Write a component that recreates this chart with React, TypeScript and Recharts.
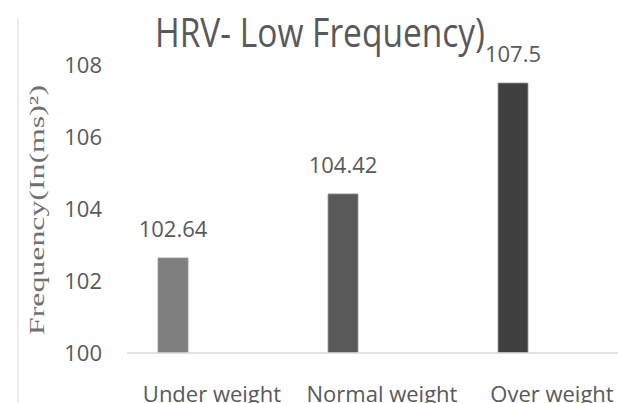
import React from 'react';
import { BarChart, Bar, XAxis, YAxis, LabelList, Cell, Customized } from 'recharts';

const categories = ['Under weight', 'Normal weight', 'Over weight'];
const values = [102.64, 104.42, 107.5];
const yTicks = [100, 102, 104, 106, 108];
const barColors = ['#7f7f7f', '#595959', '#404040'];
const title = 'HRV- Low Frequency)';
const yLabel = 'Frequency(In(ms)²)';

const data = categories.map((c, i) => ({ name: c, value: values[i], empty: null as number | null }));

const TEXT = '#595959';
const SANS = '"Open Sans", sans-serif';

const XTick = (props: any) => {
  const { x, y, payload } = props;
  return (
    <text x={x} y={y} dy={41} textAnchor="middle" fill={TEXT} fontSize={22} fontFamily={SANS}>
      {payload.value}
    </text>
  );
};

const YTick = (props: any) => {
  const { x, y, payload } = props;
  return (
    <text x={x} y={y} dx={-17} dy={8} textAnchor="end" fill={TEXT} fontSize={22} fontFamily={SANS}>
      {payload.value}
    </text>
  );
};

const ValueLabel = (props: any) => {
  const { x, y, width, value } = props;
  return (
    <text x={x + width / 2} y={y} dy={-21} textAnchor="middle" fill={TEXT} fontSize={22} fontFamily={SANS}>
      {value}
    </text>
  );
};

const Decor = () => (
  <g>
    <line x1={18} y1={18} x2={18} y2={403} stroke="#d9d9d9" strokeWidth={1} />
    <text x={320} y={47} textAnchor="middle" fill={TEXT} fontSize={40} fontFamily={SANS}
      textLength={330} lengthAdjust="spacingAndGlyphs">
      {title}
    </text>
    <text transform="translate(44,210) rotate(-90)" textAnchor="middle" fill="#707070"
      fontSize={21} fontFamily='"Liberation Serif", "DejaVu Serif", serif'
      textLength={250} lengthAdjust="spacingAndGlyphs">
      {yLabel}
    </text>
  </g>
);

export default function App() {
  return (
    <div style={{ position: 'absolute', left: 0, top: 0, width: 618, height: 403, overflow: 'hidden', background: '#fff' }}>
      <BarChart
        width={640}
        height={403}
        data={data}
        margin={{ top: 65, right: 3, left: 0, bottom: 0 }}
        barGap={48}
      >
        <XAxis
          dataKey="name"
          height={50}
          axisLine={{ stroke: '#d9d9d9', strokeWidth: 1.5 }}
          tickLine={false}
          tick={<XTick />}
          interval={0}
        />
        <YAxis
          width={127}
          domain={[100, 108]}
          ticks={yTicks}
          axisLine={false}
          tickLine={false}
          tick={<YTick />}
          allowDataOverflow
        />
        <Bar dataKey="value" barSize={30} isAnimationActive={false} stroke="#9a9a9a" strokeWidth={0.8}>
          {data.map((d, i) => (
            <Cell key={d.name} fill={barColors[i]} />
          ))}
          <LabelList dataKey="value" content={<ValueLabel />} />
        </Bar>
        <Bar dataKey="empty" barSize={30} isAnimationActive={false} fill="none" />
        <Customized component={<Decor />} />
      </BarChart>
    </div>
  );
}
